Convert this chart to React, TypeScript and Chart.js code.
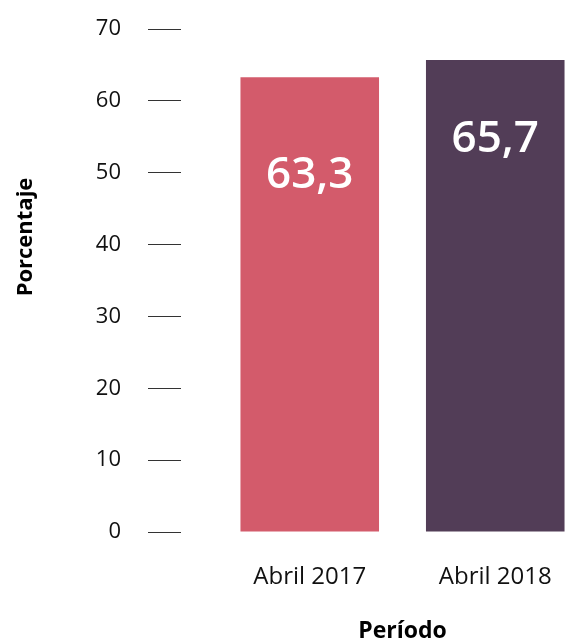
import React, { useEffect, useRef } from "react";
import { Chart, registerables } from "chart.js";

Chart.register(...registerables);

const categories = ["Abril 2017", "Abril 2018"];
const values = [63.3, 65.7];
const barColors = ["#d35b6b", "#523d57"];
const yTicks = [0, 10, 20, 30, 40, 50, 60, 70];
const yAxisTitle = "Porcentaje";
const xAxisTitle = "Período";

const FONT = "'Open Sans', 'DejaVu Sans', sans-serif";

export default function App() {
  const ref = useRef<HTMLCanvasElement>(null);

  useEffect(() => {
    if (!ref.current) return;

    const labelPlugin = {
      id: "valueLabels",
      afterDatasetsDraw(chart: any) {
        const ctx = chart.ctx;
        const meta = chart.getDatasetMeta(0);
        const offsets = [98, 80];
        ctx.save();
        ctx.fillStyle = "#ffffff";
        ctx.font = `600 44px ${FONT}`;
        ctx.textAlign = "center";
        ctx.textBaseline = "middle";
        meta.data.forEach((bar: any, i: number) => {
          const { x, y } = bar.getProps(["x", "y"], true);
          ctx.fillText(values[i].toFixed(1).replace(".", ","), x, y + offsets[i]);
        });
        ctx.restore();

        ctx.save();
        ctx.font = `bold 22px ${FONT}`;
        ctx.fillStyle = "#000000";
        ctx.textAlign = "center";
        ctx.textBaseline = "middle";
        ctx.translate(18, 229);
        ctx.rotate(-Math.PI / 2);
        ctx.fillText(yAxisTitle, 0, 0);
        ctx.restore();
      },
    };

    const chart = new Chart(ref.current, {
      type: "bar",
      data: {
        labels: categories,
        datasets: [
          {
            data: values,
            backgroundColor: barColors,
            borderWidth: 0,
            categoryPercentage: 1,
            barPercentage: 0.747,
          },
        ],
      },
      options: {
        responsive: false,
        animation: false,
        layout: { padding: { top: 21, left: 0, right: 0, bottom: 0 } },
        plugins: {
          legend: { display: false },
          tooltip: { enabled: false },
        },
        scales: {
          x: {
            type: "category",
            offset: true,
            grid: { display: false, drawTicks: false },
            border: { display: false },
            ticks: {
              color: "#111111",
              padding: 31,
              font: { family: FONT, size: 24 },
            },
            title: {
              display: true,
              text: xAxisTitle,
              color: "#000000",
              padding: 0,
              font: { family: FONT, size: 23, weight: "bold", lineHeight: 1 },
            },
            afterFit: (scale: any) => {
              scale.height = 111;
              scale.paddingLeft = 0;
              scale.paddingRight = 0;
            },
          },
          y: {
            type: "linear",
            position: "left",
            weight: 2,
            min: 0,
            max: 70,
            grid: {
              drawOnChartArea: false,
              drawTicks: true,
              tickLength: 33,
              tickColor: "#333333",
              lineWidth: 1,
            },
            border: { display: false },
            ticks: {
              color: "#111111",
              padding: 27,
              font: { family: FONT, size: 22 },
            },
            afterBuildTicks: (scale: any) => {
              scale.ticks = yTicks.map((v) => ({ value: v }));
            },
            afterFit: (scale: any) => {
              scale.width = 173;
              scale.paddingTop = 0;
              scale.paddingBottom = 0;
            },
          },
          gap: {
            type: "linear",
            position: "left",
            weight: 0,
            display: true,
            grid: { display: false, drawTicks: false },
            border: { display: false },
            ticks: { display: false },
            afterFit: (scale: any) => {
              scale.width = 36;
              scale.paddingTop = 0;
              scale.paddingBottom = 0;
            },
          },
        },
      },
      plugins: [labelPlugin],
    });

    return () => chart.destroy();
  }, []);

  return (
    <div
      style={{
        position: "fixed",
        left: 8,
        top: 8,
        width: 557,
        height: 635,
        overflow: "hidden",
      }}
    >
      <canvas ref={ref} width={580} height={635} style={{ display: "block" }} />
    </div>
  );
}
